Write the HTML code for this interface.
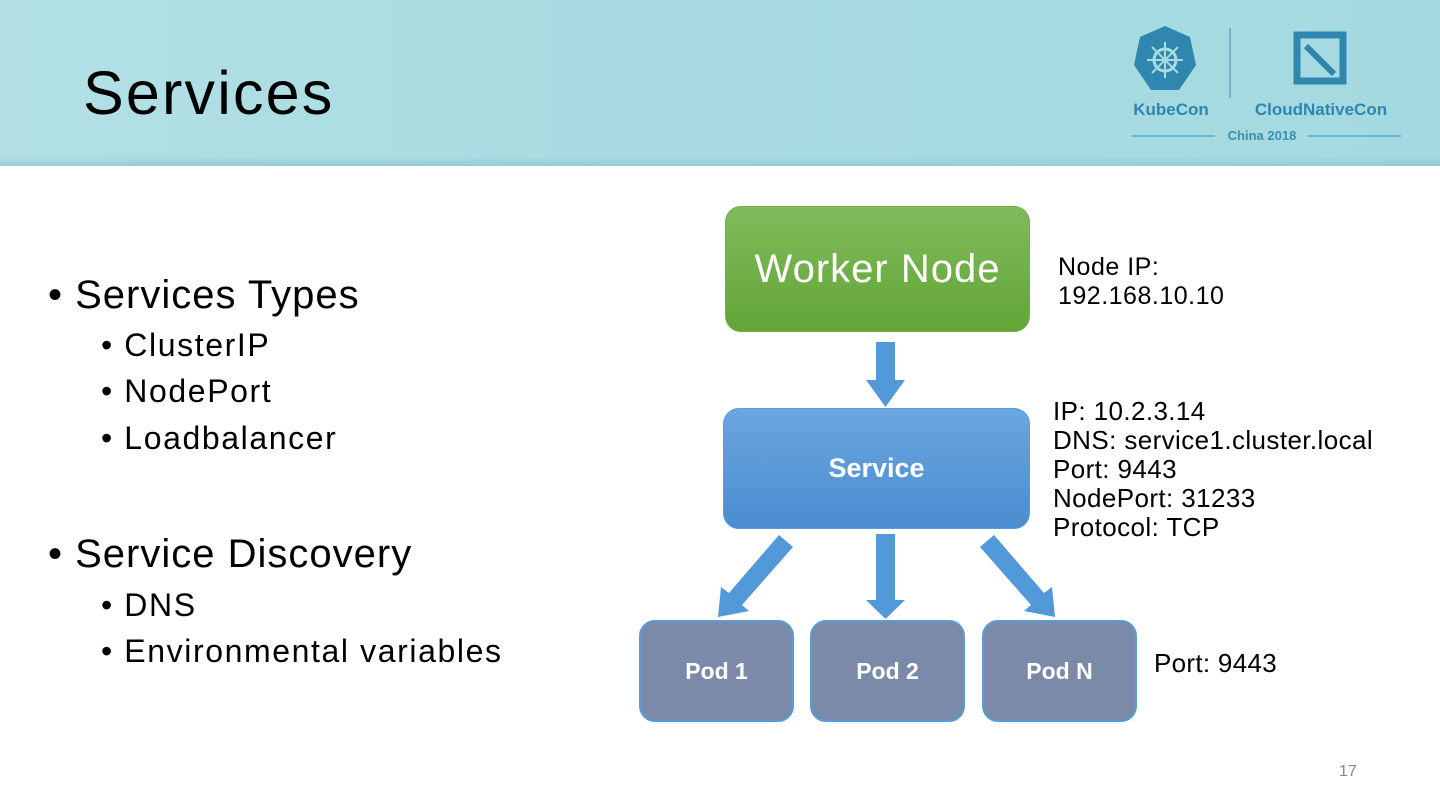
<!DOCTYPE html>
<html><head><meta charset="utf-8"><style>
body{margin:0;width:1440px;height:810px;position:relative;overflow:hidden;background:#fff;font-family:"Liberation Sans",sans-serif;}
.hdr{position:absolute;left:0;top:0;width:1440px;height:166px;background:linear-gradient(90deg,#b2e0e6 0%,#a9dce2 40%,#a6dbe1 70%,#a3d9e0 100%);}
.hdr:after{content:"";position:absolute;left:0;bottom:0;width:100%;height:10px;background:linear-gradient(180deg,rgba(140,200,208,0),#92cdd4);}
.t{position:absolute;white-space:nowrap;}
.s{font-size:32px;letter-spacing:1.6px;}
.m{font-size:40px;letter-spacing:1px;}
.box{position:absolute;box-sizing:border-box;border-radius:16px;color:#fff;display:flex;align-items:center;justify-content:center;}
</style></head><body>
<div class="hdr"></div>
<div class="t" style="left:83px;top:58px;font-size:61px;letter-spacing:2.2px;color:#000;">Services</div>
<!-- logo -->
<svg style="position:absolute;left:1120px;top:20px" width="300" height="130">
 <polygon points="45,6 70,17 76,45 59,70 31,70 14,45 20,17" fill="#2f86ae"/>
 <circle cx="45" cy="40" r="11" fill="none" stroke="#a8dbe2" stroke-width="3"/>
 <path d="M45,22V58M27,40H63M32,27L58,53M58,27L32,53" stroke="#a8dbe2" stroke-width="2"/>
 <line x1="110" y1="8" x2="110" y2="78" stroke="#3a8fb0" stroke-width="1"/>
 <rect x="177" y="15" width="46" height="46" fill="none" stroke="#2f86ae" stroke-width="7"/>
 <path d="M186,26L214,54" stroke="#2f86ae" stroke-width="6"/>
 <text x="51" y="95" font-family="Liberation Sans" font-weight="bold" font-size="17" fill="#2f86ae" text-anchor="middle">KubeCon</text>
 <text x="201" y="95" font-family="Liberation Sans" font-weight="bold" font-size="17" fill="#2f86ae" text-anchor="middle">CloudNativeCon</text>
 <line x1="12" y1="116" x2="95" y2="116" stroke="#3a8fb0"/>
 <line x1="188" y1="116" x2="281" y2="116" stroke="#3a8fb0"/>
 <text x="142" y="120" font-family="Liberation Sans" font-weight="bold" font-size="13" fill="#3a8fb0" text-anchor="middle">China 2018</text>
</svg>
<!-- bullets -->
<div class="t m" style="left:48px;top:273px;">•&nbsp;Services Types</div>
<div class="t s" style="left:101px;top:327px;">•&nbsp;ClusterIP</div>
<div class="t s" style="left:101px;top:373px;">•&nbsp;NodePort</div>
<div class="t s" style="left:101px;top:420px;">•&nbsp;Loadbalancer</div>
<div class="t m" style="left:48px;top:532px;">•&nbsp;Service Discovery</div>
<div class="t s" style="left:101px;top:587px;">•&nbsp;DNS</div>
<div class="t s" style="left:101px;top:633px;">•&nbsp;Environmental variables</div>
<!-- boxes -->
<div class="box" style="left:725px;top:206px;width:305px;height:126px;background:linear-gradient(#80bb5c,#62a535);border:1px solid #74b04a;font-size:40px;letter-spacing:1px;">Worker Node</div>
<div class="box" style="left:723px;top:408px;width:307px;height:121px;background:linear-gradient(#6aa6df,#4a8dd0);border:1px solid #5b9bd5;font-size:27px;font-weight:bold;">Service</div>
<div class="box" style="left:639px;top:620px;width:155px;height:102px;background:#7a8aa8;border:2px solid #5b9bd5;font-size:23px;font-weight:bold;">Pod 1</div>
<div class="box" style="left:810px;top:620px;width:155px;height:102px;background:#7a8aa8;border:2px solid #5b9bd5;font-size:23px;font-weight:bold;">Pod 2</div>
<div class="box" style="left:982px;top:620px;width:155px;height:102px;background:#7a8aa8;border:2px solid #5b9bd5;font-size:23px;font-weight:bold;">Pod N</div>
<!-- arrows -->
<svg style="position:absolute;left:0;top:0" width="1440" height="810">
 <g fill="#5299da">
  <polygon points="876,342 895,342 895,380 905,380 885.5,407 866,380 876,380"/>
  <polygon points="876,534 895,534 895,600 905,600 885.5,619 866,600 876,600"/>
  <polygon points="779,535 793,547 742,605 749,611 718,617 721,587 729,593"/>
  <polygon points="994,535 980,547 1031,605 1024,611 1055,617 1052,587 1044,593"/>
 </g>
</svg>
<!-- side text -->
<div class="t" style="left:1058px;top:253px;font-size:25px;letter-spacing:0.5px;line-height:29px;">Node IP:<br>192.168.10.10</div>
<div class="t" style="left:1053px;top:397px;font-size:26px;letter-spacing:0.4px;line-height:29px;">IP: 10.2.3.14<br>DNS: service1.cluster.local<br>Port: 9443<br>NodePort: 31233<br>Protocol: TCP</div>
<div class="t" style="left:1154px;top:648px;font-size:26px;letter-spacing:0.3px;">Port: 9443</div>
<div class="t" style="left:1339px;top:763px;font-size:16px;color:#888;">17</div>
</body></html>
